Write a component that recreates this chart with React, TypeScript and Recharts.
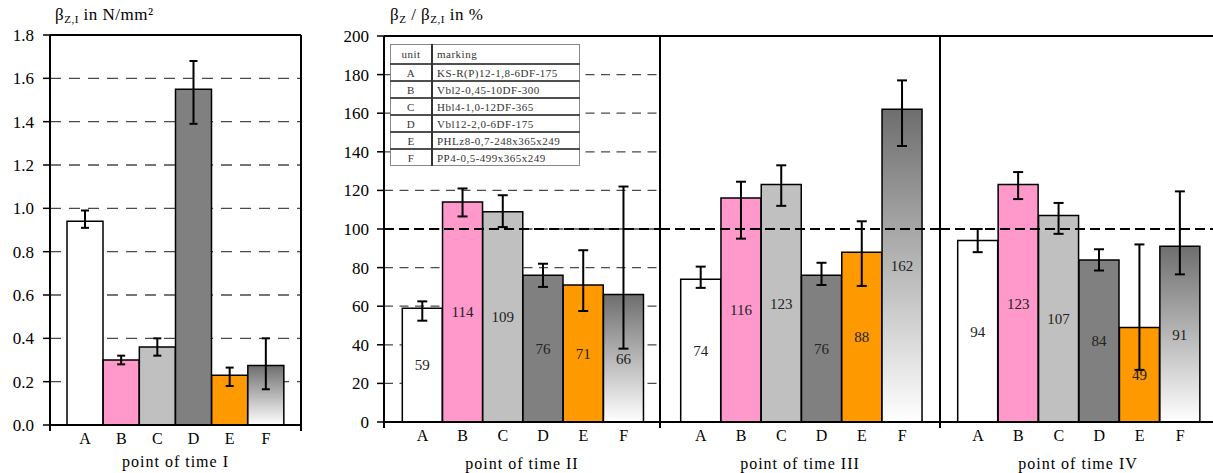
import React from "react";
import {
  BarChart,
  Bar,
  XAxis,
  YAxis,
  CartesianGrid,
  ErrorBar,
  Cell,
  LabelList,
  ReferenceLine,
} from "recharts";

// units and their marking (legend table)
const units = ["A", "B", "C", "D", "E", "F"];
const markings = [
  "KS-R(P)12-1,8-6DF-175",
  "Vbl2-0,45-10DF-300",
  "Hbl4-1,0-12DF-365",
  "Vbl12-2,0-6DF-175",
  "PHLz8-0,7-248x365x249",
  "PP4-0,5-499x365x249",
];
const unitColors = ["#ffffff", "#ff99cc", "#c0c0c0", "#808080", "#ff9900"];

// point of time I, absolute strength in N/mm²
const strengthI = [0.94, 0.3, 0.36, 1.55, 0.23, 0.275];
const strengthILow = [0.91, 0.28, 0.32, 1.39, 0.18, 0.165];
const strengthIHigh = [0.99, 0.32, 0.4, 1.68, 0.265, 0.4];

// later points of time, relative to point I in %
const ratioII = [59, 114, 109, 76, 71, 66];
const ratioIILow = [52.5, 106.5, 101, 70, 57.5, 38];
const ratioIIHigh = [62.5, 121, 117.5, 82, 89, 122];

const ratioIII = [74, 116, 123, 76, 88, 162];
const ratioIIILow = [69.5, 95, 112, 71, 70.5, 143];
const ratioIIIHigh = [80.5, 124.5, 133, 82.5, 104, 177];

const ratioIV = [94, 123, 107, 84, 49, 91];
const ratioIVLow = [88, 115.5, 97.5, 78.5, 27, 76.5];
const ratioIVHigh = [100, 129.5, 113.5, 89.5, 92, 119.5];

const strengthTicks = [0, 0.2, 0.4, 0.6, 0.8, 1.0, 1.2, 1.4, 1.6, 1.8];
const ratioTicks = [0, 20, 40, 60, 80, 100, 120, 140, 160, 180, 200];

const makeRows = (values: number[], low: number[], high: number[]) =>
  units.map((u, i) => ({
    unit: u,
    value: values[i],
    err: [values[i] - low[i], high[i] - values[i]],
  }));

const Fade = ({ id }: { id: string }) => (
  <defs>
    <linearGradient id={id} x1="0" y1="0" x2="0" y2="1">
      <stop offset="0" stopColor="#6e6e6e" />
      <stop offset="1" stopColor="#ffffff" />
    </linearGradient>
  </defs>
);

const serif = "'Liberation Serif', 'Times New Roman', serif";
const axisText = { fill: "#000", fontSize: 16, fontFamily: serif };

interface PanelProps {
  values: number[];
  low: number[];
  high: number[];
  title: string;
  left: number;
  plotWidth: number;
  padL: number;
  padR: number;
  showAxis: boolean;
  gid: string;
}

const RatioPanel: React.FC<PanelProps> = ({
  values,
  low,
  high,
  title,
  left,
  plotWidth,
  padL,
  padR,
  showAxis,
  gid,
}) => {
  const rows = makeRows(values, low, high);
  const axisW = showAxis ? 50 : 1;
  return (
    <div style={{ position: "absolute", left: left - axisW, top: 0 }}>
      <BarChart
        width={axisW + plotWidth}
        height={473}
        data={rows}
        margin={{ top: 36, right: 0, bottom: 0, left: 0 }}
        barCategoryGap={0}
        barGap={0}
      >
        <Fade id={gid} />
        <CartesianGrid
          vertical={false}
          stroke="#4a4a4a"
          strokeWidth={1.3}
          strokeDasharray="9 6.5"
        />
        <XAxis
          dataKey="unit"
          height={51}
          padding={{ left: padL, right: padR }}
          tickLine={false}
          axisLine={{ stroke: "#000", strokeWidth: 2 }}
          tick={axisText}
          label={{
            value: title,
            position: "insideBottom",
            offset: 4,
            letterSpacing: 1,
            ...axisText,
          }}
        />
        <YAxis
          domain={[0, 200]}
          ticks={ratioTicks}
          interval={0}
          width={axisW}
          tick={showAxis ? { ...axisText, fontSize: 17 } : false}
          tickLine={showAxis ? { stroke: "#000", strokeWidth: 1.5 } : false}
          tickSize={7}
          tickMargin={8}
          axisLine={{ stroke: "#000", strokeWidth: 2 }}
        />
        <Bar
          dataKey="value"
          isAnimationActive={false}
          stroke="#000"
          strokeWidth={1.5}
        >
          {rows.map((r, i) => (
            <Cell
              key={r.unit}
              fill={i === 5 ? `url(#${gid})` : unitColors[i]}
            />
          ))}
          <LabelList
            dataKey="value"
            position="center"
            fill="#222"
            fontSize={15}
            fontFamily={serif}
          />
          <ErrorBar
            dataKey="err"
            width={5}
            stroke="#000"
            strokeWidth={2}
            direction="y"
            isAnimationActive={false}
          />
        </Bar>
        <ReferenceLine y={200} stroke="#000" strokeWidth={2} />
        <ReferenceLine
          y={100}
          stroke="#000"
          strokeWidth={2}
          strokeDasharray="10 5"
        />
      </BarChart>
    </div>
  );
};

const StrengthChart = () => {
  const rows = makeRows(strengthI, strengthILow, strengthIHigh);
  return (
    <div style={{ position: "absolute", left: 0, top: 0 }}>
      <BarChart
        width={320}
        height={473}
        data={rows}
        margin={{ top: 35, right: 0, bottom: 0, left: 0 }}
        barCategoryGap={0}
        barGap={0}
      >
        <Fade id="fadeI" />
        <CartesianGrid
          vertical={false}
          stroke="#4a4a4a"
          strokeWidth={1.3}
          strokeDasharray="11 8"
        />
        <XAxis
          dataKey="unit"
          height={48}
          padding={{ left: 17, right: 17 }}
          tickLine={false}
          axisLine={{ stroke: "#000", strokeWidth: 2 }}
          tick={axisText}
          label={{
            value: "point of time I",
            position: "insideBottom",
            offset: 6,
            letterSpacing: 1,
            ...axisText,
          }}
        />
        <YAxis
          domain={[0, 1.8]}
          ticks={strengthTicks}
          interval={0}
          width={50}
          tickFormatter={(v: number) => v.toFixed(1)}
          tick={{ ...axisText, fontSize: 17 }}
          tickLine={{ stroke: "#000", strokeWidth: 1.5 }}
          tickSize={7}
          tickMargin={9}
          axisLine={{ stroke: "#000", strokeWidth: 2 }}
        />
        <YAxis
          yAxisId="frame"
          orientation="right"
          domain={[0, 1.8]}
          width={19}
          tick={false}
          tickLine={false}
          axisLine={{ stroke: "#000", strokeWidth: 2 }}
        />
        <Bar
          dataKey="value"
          isAnimationActive={false}
          stroke="#000"
          strokeWidth={1.5}
        >
          {rows.map((r, i) => (
            <Cell key={r.unit} fill={i === 5 ? "url(#fadeI)" : unitColors[i]} />
          ))}
          <ErrorBar
            dataKey="err"
            width={4}
            stroke="#000"
            strokeWidth={2}
            direction="y"
            isAnimationActive={false}
          />
        </Bar>
        <ReferenceLine y={1.8} stroke="#000" strokeWidth={2} />
      </BarChart>
    </div>
  );
};

// small tick stubs under the x axis at the frame edges
const stubs = [
  { x: 50, y: 425 },
  { x: 301, y: 425 },
  { x: 384, y: 422 },
  { x: 660, y: 422 },
  { x: 940, y: 422 },
];

const cell: React.CSSProperties = {
  borderTop: "2px solid #505050",
  padding: "0 4px",
  height: 15,
  lineHeight: "14px",
  whiteSpace: "nowrap",
};

export default function App() {
  return (
    <div
      style={{
        position: "absolute",
        left: 0,
        top: 0,
        width: 1213,
        height: 473,
        overflow: "hidden",
        background: "#fff",
        fontFamily: serif,
      }}
    >
      <StrengthChart />
      <RatioPanel
        values={ratioII}
        low={ratioIILow}
        high={ratioIIHigh}
        title="point of time II"
        left={384}
        plotWidth={276}
        padL={18.3}
        padR={16.3}
        showAxis
        gid="fadeII"
      />
      <RatioPanel
        values={ratioIII}
        low={ratioIIILow}
        high={ratioIIIHigh}
        title="point of time III"
        left={660}
        plotWidth={280}
        padL={20.7}
        padR={17.7}
        showAxis={false}
        gid="fadeIII"
      />
      <RatioPanel
        values={ratioIV}
        low={ratioIVLow}
        high={ratioIVHigh}
        title="point of time IV"
        left={940}
        plotWidth={276}
        padL={17.7}
        padR={15.7}
        showAxis={false}
        gid="fadeIV"
      />

      {stubs.map((s) => (
        <div
          key={s.x}
          style={{
            position: "absolute",
            left: s.x - 1,
            top: s.y,
            width: 1.5,
            height: 6,
            background: "#000",
          }}
        />
      ))}

      <div
        style={{
          position: "absolute",
          left: 55,
          top: 6,
          fontSize: 17,
          lineHeight: "17px",
          letterSpacing: 0.5,
          whiteSpace: "nowrap",
        }}
      >
        β<sub style={{ fontSize: 11, verticalAlign: "-3px" }}>Z,I</sub> in N/mm²
      </div>
      <div
        style={{
          position: "absolute",
          left: 390,
          top: 6,
          fontSize: 17,
          lineHeight: "17px",
          letterSpacing: 0.5,
          whiteSpace: "nowrap",
        }}
      >
        β<sub style={{ fontSize: 11, verticalAlign: "-3px" }}>Z</sub> / β
        <sub style={{ fontSize: 11, verticalAlign: "-3px" }}>Z,I</sub> in %
      </div>

      <table
        style={{
          position: "absolute",
          left: 390,
          top: 44,
          width: 190,
          borderCollapse: "collapse",
          background: "#fff",
          border: "1px solid #888",
          fontSize: 11,
          letterSpacing: 0.5,
          color: "#333",
          zIndex: 2,
        }}
      >
        <tbody>
          <tr>
            <td
              style={{
                ...cell,
                borderTop: "none",
                textAlign: "center",
                width: 32,
                borderRight: "2px solid #333",
                height: 18,
              }}
            >
              unit
            </td>
            <td style={{ ...cell, borderTop: "none", height: 18 }}>marking</td>
          </tr>
          {units.map((u, i) => (
            <tr key={u}>
              <td style={{ ...cell, textAlign: "center", borderRight: "2px solid #333" }}>
                {u}
              </td>
              <td style={cell}>{markings[i]}</td>
            </tr>
          ))}
        </tbody>
      </table>
    </div>
  );
}
